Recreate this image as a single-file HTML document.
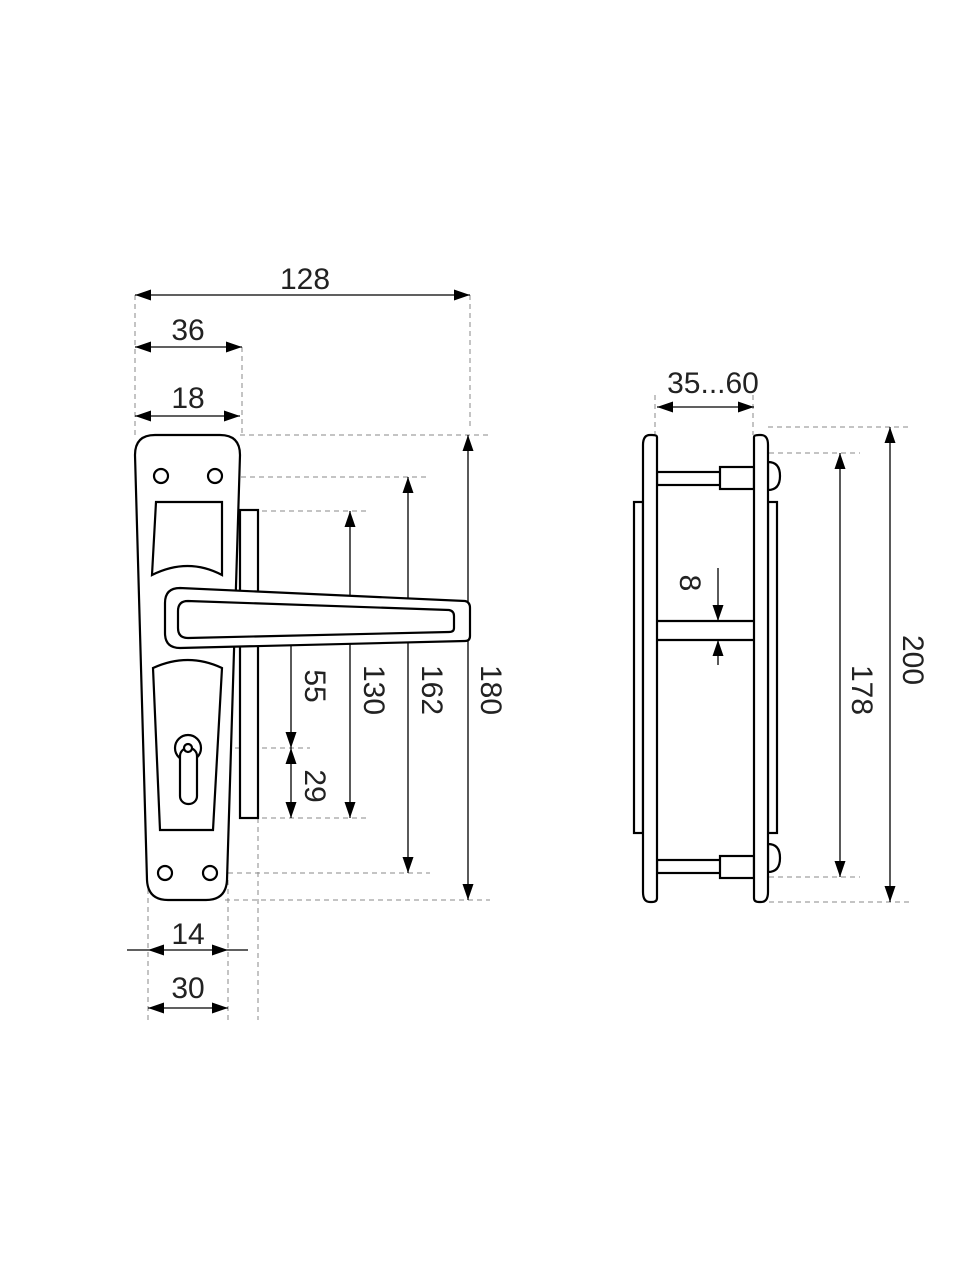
<!DOCTYPE html>
<html><head><meta charset="utf-8"><style>html,body{margin:0;background:#fff}svg{display:block}</style></head><body>
<svg width="960" height="1280" viewBox="0 0 960 1280" xmlns="http://www.w3.org/2000/svg">
<defs>
<marker id="a" viewBox="0 0 16 12" refX="16" refY="6" markerWidth="16" markerHeight="12" markerUnits="userSpaceOnUse" orient="auto-start-reverse"><path d="M0,0.5 L16,6 L0,11.5z" fill="#000"/></marker>
</defs>
<g font-family="Liberation Sans, sans-serif" font-size="30" fill="#222">
<text x="305" y="289" text-anchor="middle">128</text>
<text x="188" y="340" text-anchor="middle">36</text>
<text x="188" y="408" text-anchor="middle">18</text>
<text x="188" y="944" text-anchor="middle">14</text>
<text x="188" y="998" text-anchor="middle">30</text>
<text x="713" y="393" text-anchor="middle">35...60</text>
<text transform="translate(305,686) rotate(90)" text-anchor="middle">55</text>
<text transform="translate(305,786) rotate(90)" text-anchor="middle">29</text>
<text transform="translate(364,690) rotate(90)" text-anchor="middle">130</text>
<text transform="translate(422,690) rotate(90)" text-anchor="middle">162</text>
<text transform="translate(481,690) rotate(90)" text-anchor="middle">180</text>
<text transform="translate(680,583) rotate(90)" text-anchor="middle">8</text>
<text transform="translate(852,690) rotate(90)" text-anchor="middle">178</text>
<text transform="translate(903,660) rotate(90)" text-anchor="middle">200</text>
</g>
<g stroke="#888" stroke-width="1" stroke-dasharray="5,4" fill="none">
<path d="M135,295V435M242,347V435M470,295V430M240,435H490M160,477H430M262,511H370M210,620H310M190,748H310M262,818H370M165,873H430M225,900H490M148,880V1020M228,880V1020M258,818V1020M160,440V500M215,440V500"/>
<path d="M655,395V435M753,395V435M768,427H910M760,453H860M760,877H860M760,902H910"/>
</g>
<g stroke="#000" stroke-width="1.3" fill="none" marker-start="url(#a)" marker-end="url(#a)">
<line x1="135" y1="295" x2="470" y2="295"/>
<line x1="135" y1="347" x2="242" y2="347"/>
<line x1="135" y1="416" x2="240" y2="416"/>
<line x1="148" y1="950" x2="228" y2="950"/>
<line x1="148" y1="1008" x2="228" y2="1008"/>
<line x1="468" y1="435" x2="468" y2="900"/>
<line x1="408" y1="477" x2="408" y2="873"/>
<line x1="350" y1="511" x2="350" y2="818"/>
<line x1="291" y1="620" x2="291" y2="748"/>
<line x1="291" y1="748" x2="291" y2="818"/>
<line x1="657" y1="407" x2="754" y2="407"/>
<line x1="840" y1="453" x2="840" y2="877"/>
<line x1="890" y1="427" x2="890" y2="902"/>
</g>
<g stroke="#000" stroke-width="1.3" fill="none">
<line x1="718" y1="568" x2="718" y2="621" marker-end="url(#a)"/>
<line x1="718" y1="665" x2="718" y2="640" marker-end="url(#a)"/>
<line x1="127" y1="950" x2="148" y2="950"/><line x1="228" y1="950" x2="248" y2="950"/>
</g>
<g stroke="#000" stroke-width="2.2" fill="#fff">
<rect x="240" y="510" width="18" height="308"/>
<path d="M155,435H220Q240,435 240,455L227,880Q226,900 206,900H168Q148,900 147,880L135,455Q135,435 155,435Z"/>
<circle cx="161" cy="476" r="7"/><circle cx="215" cy="476" r="7"/>
<circle cx="165" cy="873" r="7"/><circle cx="210" cy="873" r="7"/>
<path d="M156,502H222V575Q188,557 152,575Z"/>
<path d="M153,668Q188,652 222,668L213,830H160Z"/>
<circle cx="188" cy="748" r="13"/>
<rect x="180" y="748" width="17" height="56" rx="8"/>
<circle cx="188" cy="748" r="4"/>
<path d="M180,588L465,601Q470,602 470,608V636Q470,641 465,641L180,648Q165,648 165,633V603Q165,588 180,588Z"/>
<path d="M188,601L449,610Q454,611 454,616V628Q454,632 449,632L188,638Q178,638 178,628V611Q178,601 188,601Z"/>
</g>
<g stroke="#000" stroke-width="2.2" fill="#fff">
<rect x="634" y="502" width="9" height="331"/>
<rect x="768" y="502" width="9" height="331"/>
<path d="M768,462Q780,462 780,476Q780,490 768,490Z"/>
<path d="M768,844Q780,844 780,858Q780,872 768,872Z"/>
<rect x="657" y="472" width="65" height="13"/><rect x="720" y="467" width="34" height="22"/>
<rect x="657" y="860" width="65" height="13"/><rect x="720" y="856" width="34" height="22"/>
<line x1="657" y1="621" x2="754" y2="621"/><line x1="657" y1="640" x2="754" y2="640"/>
<path d="M657,437V898Q657,902 652,902H650Q643,902 643,892V445Q643,435 650,435H652Q657,435 657,437Z"/>
<path d="M754,437V898Q754,902 759,902H761Q768,902 768,892V445Q768,435 761,435H759Q754,435 754,437Z"/>
</g>
</svg>
</body></html>
